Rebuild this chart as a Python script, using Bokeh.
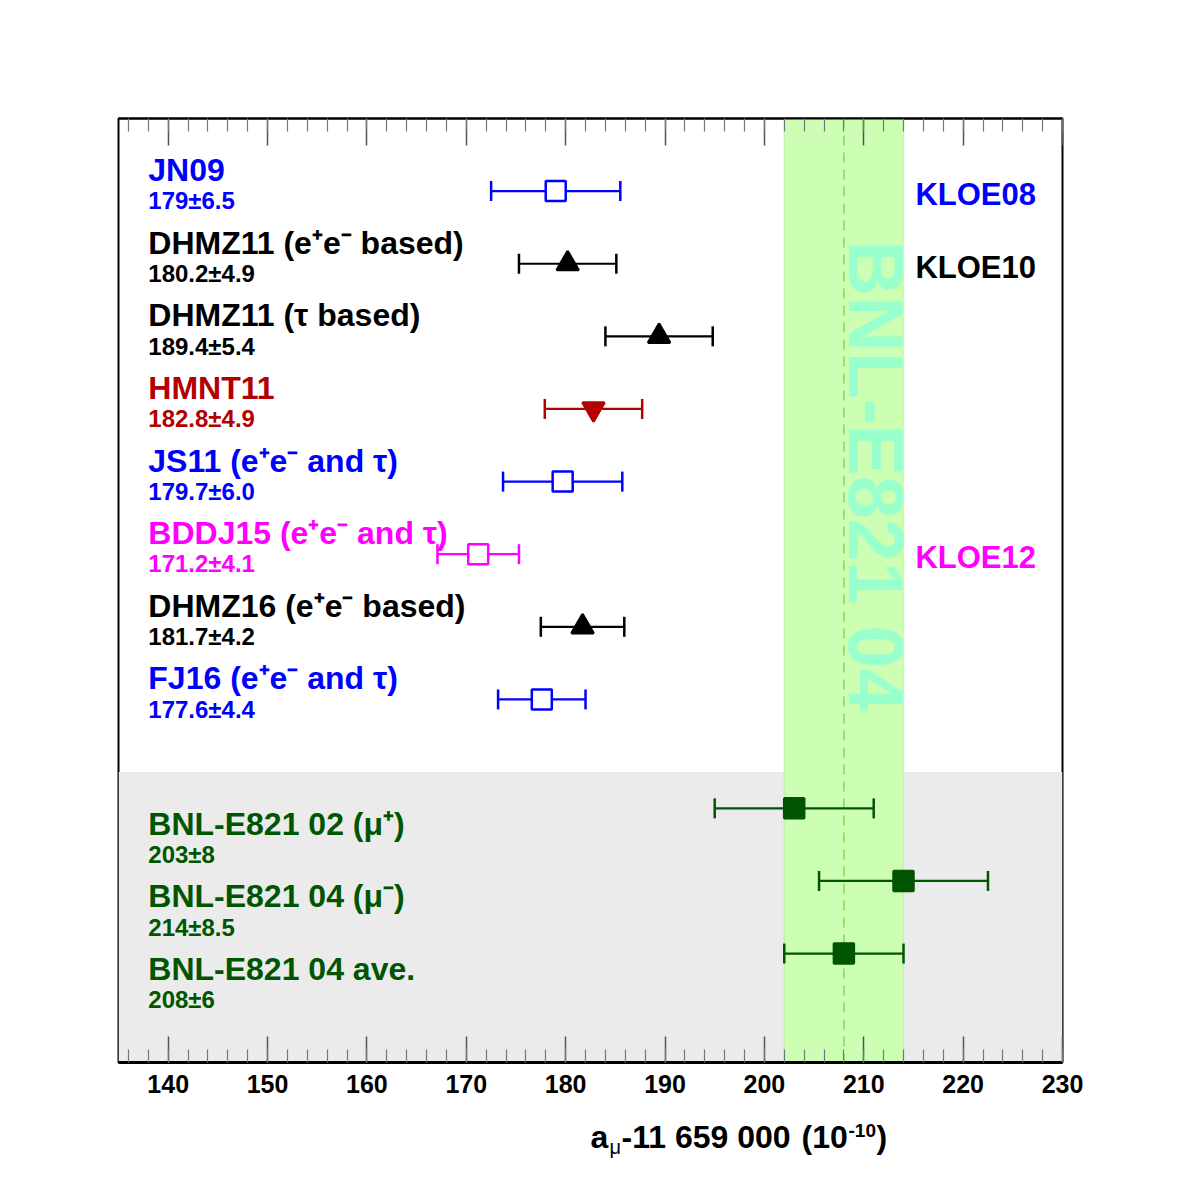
import math
from bokeh.plotting import figure
from bokeh.layouts import column
from bokeh.models import (ColumnDataSource, Range1d, LinearAxis, SingleIntervalTicker,
                          BoxAnnotation, Span)
from bokeh.core.properties import value
from bokeh.embed import file_html
from bokeh.resources import INLINE

# ---------------- data ----------------
names = ["JN09", "DHMZ11 (e⁺e⁻ based)", "DHMZ11 (τ based)", "HMNT11",
         "JS11 (e⁺e⁻ and τ)", "BDDJ15 (e⁺e⁻ and τ)", "DHMZ16 (e⁺e⁻ based)",
         "FJ16 (e⁺e⁻ and τ)", "BNL-E821 02 (μ⁺)", "BNL-E821 04 (μ⁻)", "BNL-E821 04 ave."]
value_texts = ["179±6.5", "180.2±4.9", "189.4±5.4", "182.8±4.9", "179.7±6.0",
               "171.2±4.1", "181.7±4.2", "177.6±4.4", "203±8", "214±8.5", "208±6"]
central = [179.0, 180.2, 189.4, 182.8, 179.7, 171.2, 181.7, 177.6, 203.0, 214.0, 208.0]
errors = [6.5, 4.9, 5.4, 4.9, 6.0, 4.1, 4.2, 4.4, 8.0, 8.5, 6.0]
label_rows = [1, 2, 3, 4, 5, 6, 7, 8, 10, 11, 12]
marker_rows = [1, 2, 3, 4, 5, 6, 7, 8, 9.5, 10.5, 11.5]
markers = ["square", "triangle", "triangle", "inverted_triangle", "square", "square",
           "triangle", "square", "square", "square", "square"]
filled = [False, True, True, True, False, False, True, False, True, True, True]
colors = ["#0000ff", "#000000", "#000000", "#b30000", "#0000ff", "#ff00ff",
          "#000000", "#0000ff", "#005500", "#005500", "#005500"]

kloe_names = ["KLOE08", "KLOE10", "KLOE12"]
kloe_rows = [1, 2, 6]
kloe_colors = ["#0000ff", "#000000", "#ff00ff"]

band_center = central[-1]
band_err = errors[-1]
band_label = "BNL-E821 04"
experiment_start_row = 9
x_ticks_interval = 10

# axis title pieces
title_parts = ["a", "μ", "-11 659 000", "(10", "-10", ")"]

# ---------------- figure ----------------
FONT = value("Liberation Sans")
XMIN, XMAX = 135, 230
YTOP, YBOT = 0, 13
W = 1182
H_MAIN = 1110
H_TITLE = 72
BL, BR = 118, 120

p = figure(width=W, height=H_MAIN, output_backend="svg", toolbar_location=None,
           x_range=Range1d(XMIN, XMAX), y_range=Range1d(YBOT, YTOP),
           y_axis_location=None, x_axis_location="below",
           min_border_left=BL, min_border_right=BR,
           min_border_top=118, min_border_bottom=48)
p.background_fill_color = "white"
p.border_fill_color = "white"
p.outline_line_color = "black"
p.outline_line_width = 2
p.grid.visible = False

ticker = SingleIntervalTicker(interval=x_ticks_interval, num_minor_ticks=5)
xa = p.xaxis[0]
xa.ticker = ticker
xa.axis_line_color = "black"
xa.axis_line_width = 3
xa.major_tick_in = 26
xa.major_tick_out = 0
xa.minor_tick_in = 13
xa.minor_tick_out = 0
xa.major_tick_line_color = "#555555"
xa.minor_tick_line_color = "#777777"
xa.major_tick_line_width = 1.5
xa.minor_tick_line_width = 1.2
xa.major_label_text_font = "Liberation Sans"
xa.major_label_text_font_style = "bold"
xa.major_label_text_font_size = "25px"
xa.major_label_text_color = "black"
xa.major_label_standoff = 12

top = LinearAxis(ticker=SingleIntervalTicker(interval=x_ticks_interval, num_minor_ticks=5))
top.axis_line_color = "black"
top.axis_line_width = 2
top.major_tick_in = 27
top.major_tick_out = 0
top.minor_tick_in = 13
top.minor_tick_out = 0
top.major_tick_line_color = "#555555"
top.minor_tick_line_color = "#777777"
top.major_tick_line_width = 1.5
top.minor_tick_line_width = 1.2
top.major_label_text_color = None
top.major_label_text_font_size = "1px"
p.add_layout(top, "above")

# background regions
gray = BoxAnnotation(top=experiment_start_row, bottom=YBOT, fill_color="#ebebeb",
                     fill_alpha=1.0, line_color=None, level="underlay")
p.add_layout(gray)
band = BoxAnnotation(left=band_center - band_err, right=band_center + band_err,
                     fill_color="#ccffb3", fill_alpha=1.0, line_color="#99dd77",
                     line_width=1.5, level="underlay")
p.add_layout(band)
p.add_layout(Span(location=band_center, dimension="height", line_color="#88cc44",
                  line_dash="10 7", line_width=1.3, level="underlay"))

# vertical band label
p.text(x=[band_center + 3.2], y=[1.68], text=[band_label], angle=-math.pi / 2,
       text_font=FONT, text_font_style="bold", text_font_size="77px",
       text_color="#99ffcc", text_align="left", text_baseline="alphabetic")

# ---------------- points ----------------
lo = [c - e for c, e in zip(central, errors)]
hi = [c + e for c, e in zip(central, errors)]
fills = [c if f else "white" for c, f in zip(colors, filled)]
sizes = [22 if m != "square" else 20 for m in markers]
src = ColumnDataSource(dict(c=central, lo=lo, hi=hi, y=marker_rows,
                            color=colors, fill=fills, marker=markers, size=sizes))

p.segment(x0="lo", y0="y", x1="hi", y1="y", line_color="color", line_width=2.2, source=src)
p.scatter(x="lo", y="y", marker="dash", angle=math.pi / 2, size=20,
          line_color="color", line_width=2.5, source=src)
p.scatter(x="hi", y="y", marker="dash", angle=math.pi / 2, size=20,
          line_color="color", line_width=2.5, source=src)
p.scatter(x="c", y="y", marker="marker", size="size", line_color="color",
          fill_color="fill", line_width=2.5, source=src)

# labels
name_y = [r - 0.29 for r in label_rows]
val_y = [r + 0.135 for r in label_rows]
lab_src = ColumnDataSource(dict(x=[138.0] * len(names), ny=name_y, vy=val_y,
                                name=names, val=value_texts, color=colors))
p.text(x="x", y="ny", text="name", text_color="color", text_font=FONT,
       text_font_style="bold", text_font_size="32px", text_baseline="alphabetic",
       text_align="left", source=lab_src)
p.text(x="x", y="vy", text="val", text_color="color", text_font=FONT,
       text_font_style="bold", text_font_size="24px", text_baseline="alphabetic",
       text_align="left", source=lab_src)

p.text(x=[215.2] * len(kloe_names), y=[r + 0.05 for r in kloe_rows], text=kloe_names,
       text_color=kloe_colors, text_font=FONT, text_font_style="bold",
       text_font_size="31px", text_baseline="alphabetic", text_align="left")

# ---------------- axis title strip (frame aligned with main plot, pixel units) ----------------
t = figure(width=W, height=H_TITLE, output_backend="svg", toolbar_location=None,
           x_range=Range1d(BL, W - BR), y_range=Range1d(H_TITLE, 0),
           x_axis_location=None, y_axis_location=None,
           min_border_left=BL, min_border_right=BR,
           min_border_top=0, min_border_bottom=0)
t.outline_line_color = None
t.grid.visible = False
t.background_fill_color = "white"
t.border_fill_color = "white"

title_x = [590, 609, 621, 801, 848, 876]
title_y = [26, 36, 26, 26, 20, 26]
title_size = ["32px", "20px", "32px", "32px", "19px", "32px"]
title_style = ["bold", "normal", "bold", "bold", "bold", "bold"]
for tx, ty, tt, ts, st in zip(title_x, title_y, title_parts, title_size, title_style):
    t.text(x=[tx], y=[ty], text=[tt], text_font=FONT, text_font_style=st,
           text_font_size=ts, text_color="black", text_align="left",
           text_baseline="alphabetic")

layout = column(p, t, spacing=0)
open("out.html", "w").write(file_html(layout, INLINE))
